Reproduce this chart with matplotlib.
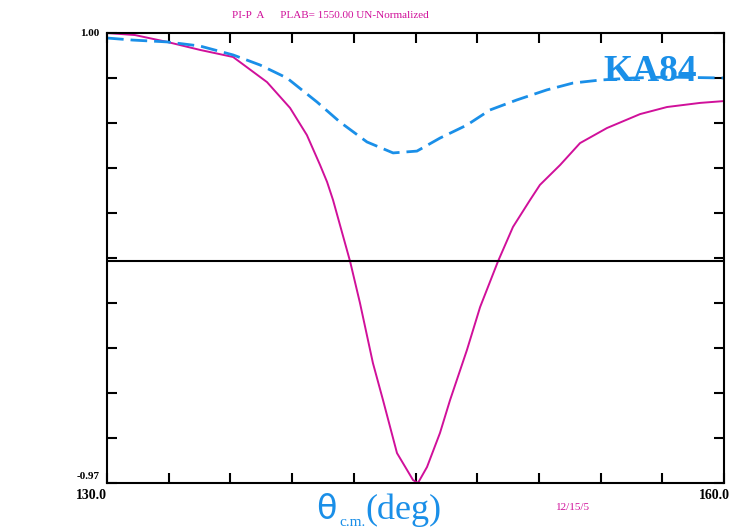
import matplotlib
matplotlib.use("Agg")
import matplotlib.pyplot as plt

# curve (deg, asymmetry)
mag_x = [130.00, 131.36, 132.92, 134.52, 136.13, 137.78, 138.90, 139.72, 140.36, 140.70,
         140.99, 141.82, 142.30, 142.93, 143.42, 144.10, 144.88, 145.12, 145.56, 146.19,
         146.68, 147.50, 148.14, 149.01, 149.74, 150.57, 151.05, 152.03, 153.00, 154.31,
         155.92, 157.23, 158.84, 160.00]
mag_y = [1.000, 0.991, 0.961, 0.926, 0.895, 0.785, 0.672, 0.553, 0.422, 0.348,
         0.269, 0.000, -0.182, -0.445, -0.607, -0.839, -0.957, -0.970, -0.900, -0.751,
         -0.607, -0.388, -0.200, 0.000, 0.151, 0.269, 0.335, 0.422, 0.518, 0.584,
         0.645, 0.676, 0.694, 0.702]

ka84_x = [130.00, 131.26, 132.92, 134.52, 136.13, 137.44, 138.75, 140.21, 141.33, 142.64,
          143.91, 145.07, 146.19, 147.50, 148.62, 149.93, 151.39, 152.66, 153.97, 155.57,
          157.23, 160.00]
ka84_y = [0.978, 0.969, 0.961, 0.943, 0.904, 0.860, 0.803, 0.698, 0.610, 0.523,
          0.475, 0.483, 0.540, 0.597, 0.663, 0.707, 0.751, 0.781, 0.794, 0.803,
          0.807, 0.803]

xmin, xmax = 130.0, 160.0
ymin, ymax = -0.97, 1.00
xticks = [130 + 3 * k for k in range(11)]
yticks = [ymax - k * (ymax - ymin) / 10 for k in range(11)]

magenta = "#d0109a"
blue = "#1a8fe8"
serif = "Liberation Serif"

fig = plt.figure(figsize=(7.32, 5.30), dpi=100, facecolor="white")
ax = fig.add_axes([107 / 732, 1 - 483 / 530, 617 / 732, 450 / 530])

ax.plot(mag_x, mag_y, color=magenta, lw=1.4)
ax.plot(ka84_x, ka84_y, color=blue, lw=2, dashes=(6, 2.5))
ax.axhline(0, color="black", lw=1.5)

ax.set_xlim(xmin, xmax)
ax.set_ylim(ymin, ymax)
ax.set_xticks(xticks)
ax.set_yticks(yticks)
ax.set_xticklabels([])
ax.set_yticklabels([])
ax.tick_params(direction="in", length=7, width=1.5, top=True, right=True)
for s in ax.spines.values():
    s.set_linewidth(1.5)

# end labels only
ax.text(-0.012, 1.0, "1.00", transform=ax.transAxes, ha="right", va="center",
        fontsize=8, family=serif, weight="bold")
ax.text(-0.012, 0.015, "-0.97", transform=ax.transAxes, ha="right", va="center",
        fontsize=8, family=serif, weight="bold")
ax.text(0.0, -0.028, "130.0", transform=ax.transAxes, ha="right", va="center",
        fontsize=10, family=serif, weight="bold")
ax.text(1.01, -0.028, "160.0", transform=ax.transAxes, ha="right", va="center",
        fontsize=10, family=serif, weight="bold")

fig.text(330 / 732, 1 - 16 / 530, "PI-P  A      PLAB= 1550.00 UN-Normalized",
         ha="center", va="center", fontsize=8, family=serif, color=magenta)
ax.text(0.957, 0.894, "KA84", transform=ax.transAxes, ha="right", va="baseline",
        fontsize=27, family=serif, weight="bold", color=blue)

# axis title: theta with c.m. subscript, then (deg)
fig.text(316 / 732, 1 - 519 / 530, "θ", ha="left", va="baseline",
         fontsize=24, family="DejaVu Sans", color=blue)
fig.text(339 / 732, 1 - 526 / 530, "c.m.", ha="left", va="baseline",
         fontsize=11, family=serif, color=blue)
fig.text(365 / 732, 1 - 519 / 530, "(deg)", ha="left", va="baseline",
         fontsize=26, family=serif, color=blue)
fig.text(573 / 732, 1 - 508 / 530, "12/15/5", ha="center", va="center",
         fontsize=8, family=serif, color=magenta)

fig.savefig("out.png", dpi=100)
